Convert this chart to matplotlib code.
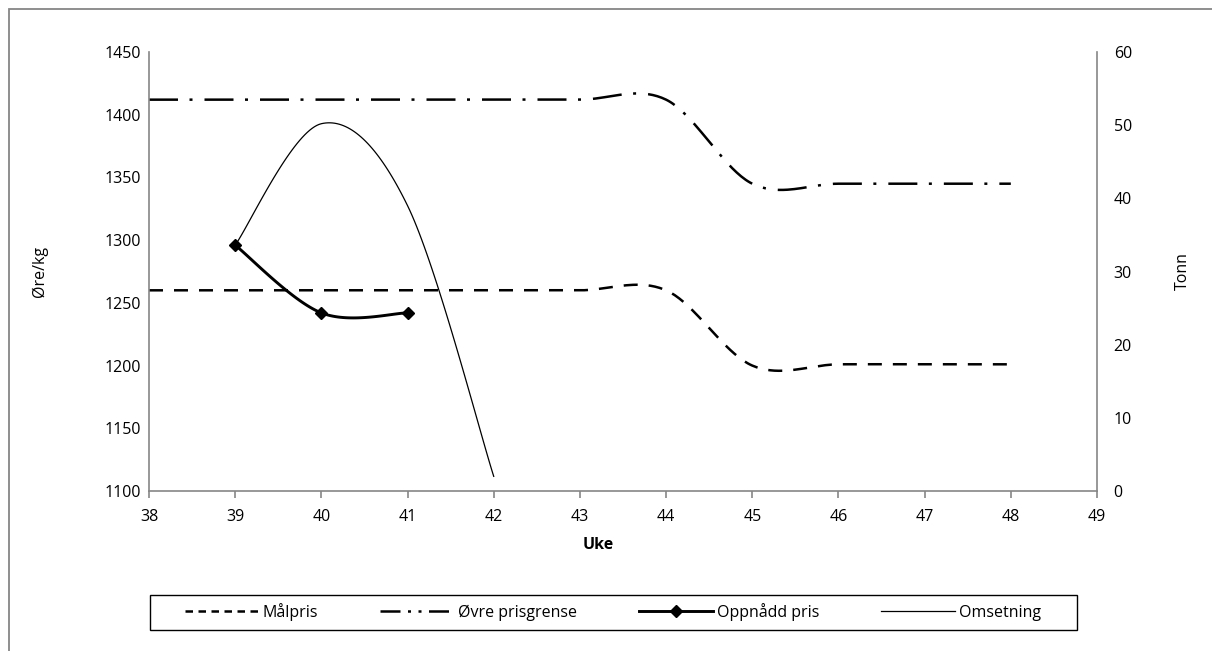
import numpy as np
import matplotlib.pyplot as plt
from matplotlib.lines import Line2D
from matplotlib.patches import Rectangle

plt.rcParams['font.family'] = ['Open Sans', 'DejaVu Sans']

# data
uke = [38, 39, 40, 41, 42, 43, 44, 45, 46, 47, 48]
malpris = [1260, 1260, 1260, 1260, 1260, 1260, 1260, 1200, 1201, 1201, 1201]
ovre = [1412, 1412, 1412, 1412, 1412, 1412, 1412, 1345, 1345, 1345, 1345]

uke_oppn = [39, 40, 41]
oppnadd = [1296, 1242, 1242]

uke_oms = [39, 40, 41, 42]
omsetning = [33.6, 50.2, 39.0, 2.0]


def smooth(x, y, n=40):
    # excel-like smoothed line (uniform catmull-rom through the points)
    p = np.c_[x, y].astype(float)
    out = []
    for i in range(len(p) - 1):
        p0 = p[i - 1] if i > 0 else p[i]
        p1, p2 = p[i], p[i + 1]
        p3 = p[i + 2] if i + 2 < len(p) else p[i + 1]
        t = np.linspace(0, 1, n)[:, None]
        m1 = (p2 - p0) / 2
        m2 = (p3 - p1) / 2
        h00 = 2*t**3 - 3*t**2 + 1
        h10 = t**3 - 2*t**2 + t
        h01 = -2*t**3 + 3*t**2
        h11 = t**3 - t**2
        seg = h00*p1 + h10*m1 + h01*p2 + h11*m2
        out.append(seg if i == 0 else seg[1:])
    s = np.vstack(out)
    return s[:, 0], s[:, 1]


W, H = 1212, 651
fig = plt.figure(figsize=(W/100, H/100), dpi=100)
ax = fig.add_axes([149/W, 1-491/H, (1097-149)/W, (491-52)/H])
ax2 = ax.twinx()

grey = '#868686'
fs = 11.5
lw = 1.8

x, y = smooth(uke, malpris)
ax.plot(x, y, color='black', lw=lw, dashes=(5.6, 4.4))
x, y = smooth(uke, ovre)
ax.plot(x, y, color='black', lw=lw, dashes=(11.6, 4.6, 1.2, 4.8))
x, y = smooth(uke_oppn, oppnadd)
ax.plot(x, y, color='black', lw=lw + 0.3, solid_capstyle='round')
ax.plot(uke_oppn, oppnadd, ls='none', marker='D', ms=6.5, color='black')
x, y = smooth(uke_oms, omsetning)
ax2.plot(x, y, color='black', lw=0.9)

ax.set_xlim(38, 49)
ax.set_ylim(1100, 1450)
ax2.set_ylim(0, 60)
ax.set_xticks(range(38, 50))
ax.set_yticks(range(1100, 1451, 50))
ax2.set_yticks(range(0, 61, 10))

for a in (ax, ax2):
    for s in a.spines.values():
        s.set_color(grey)
        s.set_linewidth(1.2)
    a.spines['top'].set_visible(False)
ax.spines['right'].set_visible(False)
ax2.spines['left'].set_visible(False)
ax2.spines['bottom'].set_visible(False)

ax.tick_params(axis='x', direction='out', length=5, color=grey, width=1.2,
               pad=8, labelsize=fs)
ax.tick_params(axis='y', length=0, pad=6, labelsize=fs)
ax2.tick_params(axis='y', length=0, pad=12, labelsize=fs)

ax.set_xlabel('Uke', fontsize=fs, fontweight='bold')
ax.xaxis.set_label_coords((598-149)/948, (491-537)/439)
ax.set_ylabel('Øre/kg', fontsize=fs)
ax.yaxis.set_label_coords((48-149)/948, 0.5)
ax2.set_ylabel('Tonn', fontsize=fs)
ax2.yaxis.set_label_coords((1175-149)/948, 0.5)

handles = [
    Line2D([], [], color='black', lw=lw, dashes=(3.0, 2.2)),
    Line2D([], [], color='black', lw=lw, dashes=(8, 3, 1.2, 3, 1.2, 3)),
    Line2D([], [], color='black', lw=lw + 0.3, marker='D', ms=6.5),
    Line2D([], [], color='black', lw=0.9),
]
labels = ['Målpris', 'Øvre prisgrense', 'Oppnådd pris', 'Omsetning']
leg = fig.legend(handles, labels, loc='center', ncol=4,
                 bbox_to_anchor=(613/W, 1-612/H),
                 fontsize=fs, frameon=False,
                 handlelength=4.6, handletextpad=0.25, columnspacing=3.9,
                 borderaxespad=0)

# legend frame and outer chart border (only left and top of it visible)
fig.patches.append(Rectangle((150/W, 1-630/H), 927/W, 35/H,
                             transform=fig.transFigure, fill=False,
                             edgecolor='black', lw=1.0))
fig.patches.append(Rectangle((9/W, -0.1), 1.2, 1 - 9/H + 0.1,
                             transform=fig.transFigure, fill=False,
                             edgecolor=grey, lw=1.3))

fig.savefig('out.png', dpi=100)
